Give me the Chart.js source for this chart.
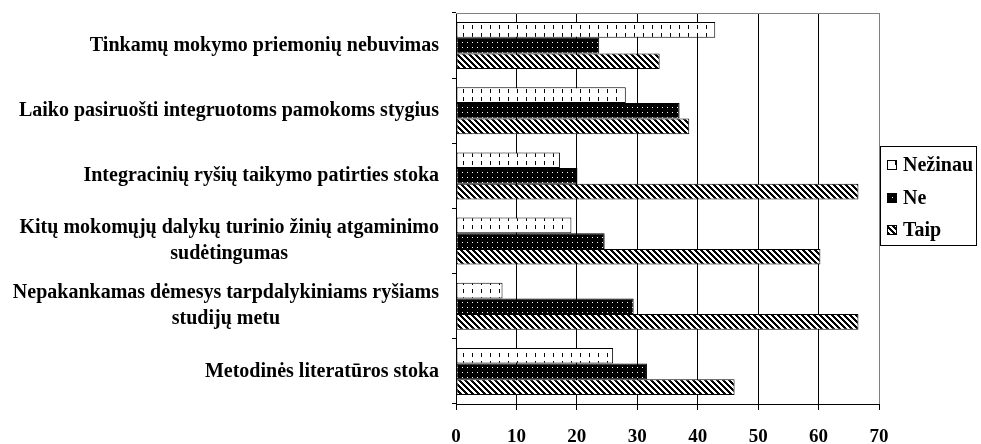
<!DOCTYPE html>
<html>
<head>
<meta charset="utf-8">
<script src="https://cdn.jsdelivr.net/npm/chart.js@4.4.1/dist/chart.umd.min.js"></script>
<style>
  body { margin: 0; background: #fff; }
  canvas { display: block; }
</style>
</head>
<body>
<canvas id="chart" width="981" height="444"></canvas>
<script>
// categories (multi-line ones as arrays)
var categories = [
    'Tinkamų mokymo priemonių nebuvimas',
    'Laiko pasiruošti integruotoms pamokoms stygius',
    'Integracinių ryšių taikymo patirties stoka',
    ['Kitų mokomųjų dalykų turinio žinių atgaminimo', 'sudėtingumas'],
    ['Nepakankamas dėmesys tarpdalykiniams ryšiams', 'studijų metu'],
    'Metodinės literatūros stoka'
];
var seriesNames = ['Nežinau', 'Ne', 'Taip'];
var nezinauValues = [42.9, 28.1, 17.2, 19.1, 7.7, 26.0];
var neValues = [23.7, 37.0, 20.1, 24.6, 29.4, 31.6];
var taipValues = [33.7, 38.6, 66.6, 60.3, 66.6, 46.1];
var xTicks = [0, 10, 20, 30, 40, 50, 60, 70];

var FONT = 'Liberation Serif';

function makePattern(w, h, draw) {
    var c = document.createElement('canvas');
    c.width = w;
    c.height = h;
    var g = c.getContext('2d');
    g.fillStyle = '#fff';
    g.fillRect(0, 0, w, h);
    draw(g, w, h);
    return document.getElementById('chart').getContext('2d').createPattern(c, 'repeat');
}

// white with short vertical marks
var patNezinau = makePattern(9, 8, function(g) {
    g.fillStyle = '#000';
    g.fillRect(4, 1, 1, 4);
});
// black with white dots
var patNe = makePattern(5, 5, function(g, w, h) {
    g.fillStyle = '#000';
    g.fillRect(0, 0, w, h);
    g.fillStyle = '#fff';
    g.fillRect(2, 2, 1, 1);
});
// backslash hatching
var patTaip = makePattern(6, 6, function(g) {
    g.fillStyle = '#000';
    for (var x = 0; x < 6; x++) {
        for (var y = 0; y < 6; y++) {
            if (((x - y + 6) % 6) < 3) g.fillRect(x, y, 1, 1);
        }
    }
});

var labelPlugin = {
    id: 'labelsAndFrame',
    afterDraw: function(chart) {
        var ctx = chart.ctx;
        var area = chart.chartArea;
        var yScale = chart.scales.y;
        ctx.save();

        // top frame line
        ctx.strokeStyle = '#808080';
        ctx.lineWidth = 1;
        ctx.beginPath();
        ctx.moveTo(area.left, area.top + 0.5);
        ctx.lineTo(area.right, area.top + 0.5);
        ctx.stroke();

        // category labels: block right-aligned, lines centered in block
        ctx.font = 'bold 20px "' + FONT + '"';
        ctx.fillStyle = '#000';
        ctx.textAlign = 'center';
        ctx.textBaseline = 'middle';
        var lineH = 26;
        categories.forEach(function(cat, i) {
            var lines = Array.isArray(cat) ? cat : [cat];
            var maxW = 0;
            lines.forEach(function(l) { maxW = Math.max(maxW, ctx.measureText(l).width); });
            var cx = 439 - maxW / 2;
            var cy = yScale.getPixelForValue(i);
            lines.forEach(function(l, j) {
                ctx.fillText(l, cx, cy + (j - (lines.length - 1) / 2) * lineH);
            });
        });

        // legend box
        var lx = 880, ly = 146, lw = 96, lh = 99;
        ctx.fillStyle = '#fff';
        ctx.fillRect(lx, ly, lw, lh);
        ctx.strokeStyle = '#000';
        ctx.strokeRect(lx + 0.5, ly + 0.5, lw, lh);
        ctx.textAlign = 'left';
        chart.data.datasets.forEach(function(ds, i) {
            var iy = 165 + i * 32.5;
            ctx.fillStyle = ds.backgroundColor;
            ctx.fillRect(887, Math.round(iy) - 5, 10, 10);
            ctx.strokeStyle = '#000';
            ctx.strokeRect(887.5, Math.round(iy) - 4.5, 9, 9);
            ctx.fillStyle = '#000';
            ctx.fillText(ds.label, 903, iy + 1);
        });
        ctx.restore();
    }
};

new Chart(document.getElementById('chart'), {
    type: 'bar',
    data: {
        labels: categories,
        datasets: [{
            label: seriesNames[0],
            data: nezinauValues,
            backgroundColor: patNezinau
        }, {
            label: seriesNames[1],
            data: neValues,
            backgroundColor: patNe
        }, {
            label: seriesNames[2],
            data: taipValues,
            backgroundColor: patTaip
        }]
    },
    options: {
        indexAxis: 'y',
        responsive: false,
        animation: false,
        datasets: {
            bar: {
                borderColor: '#000',
                borderWidth: 1,
                borderSkipped: false,
                categoryPercentage: 0.72,
                barPercentage: 1
            }
        },
        layout: {
            padding: { top: 13, right: 102, left: 0, bottom: 0 }
        },
        scales: {
            x: {
                min: 0,
                max: 70,
                afterBuildTicks: function(scale) {
                    scale.ticks = xTicks.map(function(v) { return { value: v }; });
                },
                afterFit: function(scale) { scale.height = 40; },
                grid: {
                    color: function(context) {
                        if (context.tick && context.tick.value === 70) return '#808080';
                        return '#000';
                    },
                    tickColor: '#000',
                    tickLength: 6,
                    lineWidth: 1
                },
                border: { display: true, color: '#000', width: 1 },
                ticks: {
                    padding: 16,
                    color: '#000',
                    font: { family: FONT, size: 19, weight: 'bold' },
                    maxRotation: 0
                }
            },
            y: {
                afterFit: function(scale) { scale.width = 456; },
                grid: {
                    drawOnChartArea: false,
                    drawTicks: true,
                    tickLength: 4,
                    color: '#000'
                },
                border: { display: true, color: '#000', width: 1 },
                ticks: { display: false }
            }
        },
        plugins: {
            legend: { display: false },
            tooltip: { enabled: false }
        }
    },
    plugins: [labelPlugin]
});
</script>
</body>
</html>
